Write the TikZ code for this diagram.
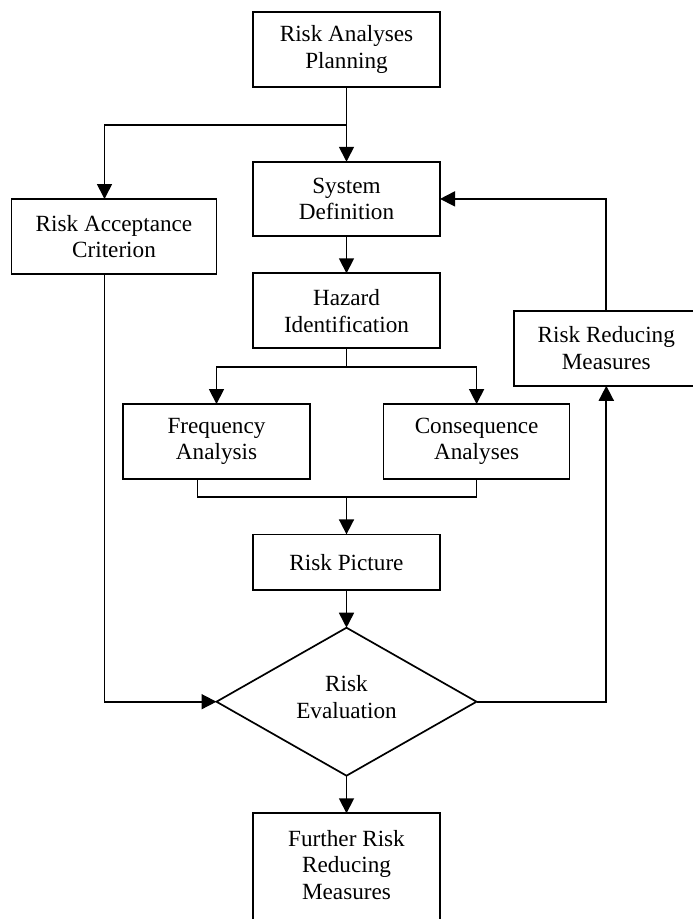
\documentclass[tikz,border=0pt]{standalone}
\usepackage{fontspec}
\setmainfont{Liberation Serif}
\usetikzlibrary{arrows.meta,shapes.geometric}
\begin{document}
\begin{tikzpicture}[x=1pt,y=-1pt,
  every node/.style={font=\fontsize{23.2}{26.7}\selectfont, align=center, inner sep=0pt, outer sep=0pt},
  box/.style={draw, line width=1.7pt, rectangle},
  decision/.style={draw, line width=1.7pt, diamond, minimum width=260pt, minimum height=148pt},
  link/.style={line width=1.7pt},
  arr/.style={link, -{Triangle[length=15pt,width=15pt]}}]
\useasboundingbox (0,0) rectangle (693,919);
\clip (0,0) rectangle (693,919);

% process boxes
\node[box, minimum width=187pt, minimum height=75pt]   (plan)    at (346.5,49.8)  {Risk Analyses\\Planning};
\node[box, minimum width=187pt, minimum height=74.3pt] (sysdef)  at (346.5,198.9) {System\\Definition};
\node[box, minimum width=205pt, minimum height=75pt]   (accept)  at (114,236.5)   {Risk Acceptance\\Criterion};
\node[box, minimum width=187pt, minimum height=75pt]   (hazard)  at (346.5,310.8) {Hazard\\Identification};
\node[box, minimum width=187pt, minimum height=74.7pt] (freq)    at (216.5,441.4) {Frequency\\Analysis};
\node[box, minimum width=186pt, minimum height=74.7pt] (cons)    at (476.6,441.4) {Consequence\\Analyses};
\node[box, minimum width=187pt, minimum height=55.7pt] (riskpic) at (346.5,562.2) {Risk Picture};
\node[box, minimum width=185pt, minimum height=74.7pt] (rrm)     at (606.3,348.4) {Risk Reducing\\Measures};

% decision diamond and its label
\node[decision] (eval) at (346.5,701.7) {};
\node (evaltext) at (346.5,697) {Risk\\Evaluation};

% last box runs past the lower edge
\node[box, minimum width=187pt, minimum height=127pt, anchor=north] (further) at (346.5,813.3) {};
\node (furthertext) at (346.5,865) {Further Risk\\Reducing\\Measures};

% helper points for off-centre connectors
\coordinate (split1) at (346.5,125);
\coordinate (acccol) at (104.5,150);
\coordinate (split2) at (346.5,367);
\coordinate (fcol)   at (197.5,450);
\coordinate (merge)  at (346.5,497.3);

% connectors
\draw[arr] (plan) -- (sysdef);
\draw[arr] (split1) -| (accept.north -| acccol);
\draw[arr] (sysdef) -- (hazard);
\draw[link] (hazard.south) -- (split2);
\draw[arr] (split2) -| (freq.north);
\draw[arr] (split2) -| (cons.north);
\draw[link] (freq.south -| fcol) |- (merge);
\draw[link] (cons.south) |- (merge);
\draw[arr] (merge) -- (riskpic.north);
\draw[arr] (riskpic) -- (eval.north);
\draw[arr] (accept.south -| acccol) |- (eval.west);
\draw[arr] (eval.east) -| (rrm.south);
\draw[arr] (rrm.north) |- (sysdef.east);
\draw[arr] (eval.south) -- (further.north);
\end{tikzpicture}
\end{document}
